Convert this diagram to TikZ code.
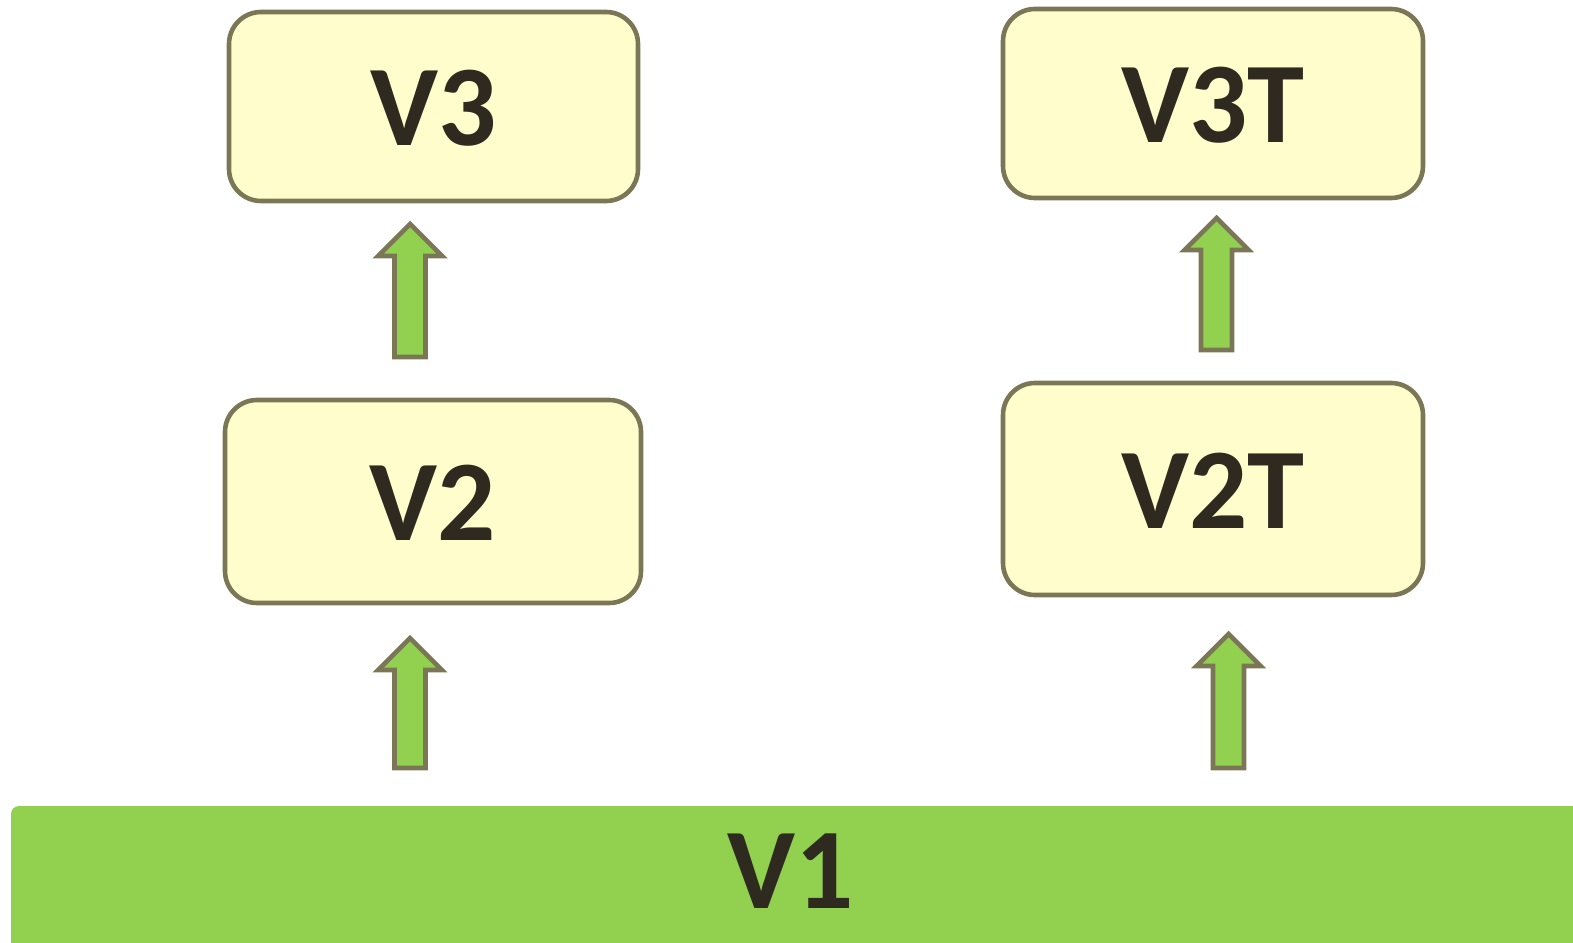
\documentclass[tikz,border=0pt]{standalone}
\usepackage{fontspec}
\setmainfont{Carlito}
\usetikzlibrary{calc}

\definecolor{boxfill}{HTML}{FEFDCB}
\definecolor{boxline}{HTML}{7B7756}
\definecolor{leafgreen}{HTML}{92D050}
\definecolor{inktext}{HTML}{2E2A1F}

\tikzset{
    bigtext/.style={text=inktext, font=\fontsize{57.5}{60}\selectfont\bfseries},
    verbox/.style={draw=boxline, line width=2.3pt, fill=boxfill, rounded corners=16pt,
        inner sep=0pt, bigtext, text depth=0pt},
    basebar/.style={fill=leafgreen, rounded corners=4pt},
    fatarrow/.style={draw=boxline, line width=2.3pt, fill=leafgreen, line join=miter}
}

% block arrow from a base point up to a tip point
\newcommand{\uparrowblock}[2]{%
    \draw[fatarrow] ($(#1)+(-15.5,0)$) -- ($(#2)+(-15.5,32)$) -- ($(#2)+(-32,32)$) -- (#2)
        -- ($(#2)+(32,32)$) -- ($(#2)+(15.5,32)$) -- ($(#1)+(15.5,0)$) -- cycle;}

\begin{document}
\begin{tikzpicture}[x=0.5pt, y=-0.5pt]
                    \useasboundingbox (0,0) rectangle (1573,942);

                    % base layer
                    \fill[basebar] (11,806) rectangle (1582,960);
                    \node [bigtext, yshift=-1.5pt] (V1) at (791,868) {V1};

                    % left column
                    \node [verbox, minimum width=204.5pt, minimum height=94.5pt] (V3) at (433.5,106.5) {\raisebox{-1.5pt}{V3}};
                    \node [verbox, minimum width=208pt, minimum height=101.5pt] (V2) at (433,501.5) {\raisebox{-1.5pt}{V2}};

                    % right column
                    \node [verbox, minimum width=210pt, minimum height=94.5pt] (V3T) at (1213,103.5) {\raisebox{-1.5pt}{V3T}};
                    \node [verbox, minimum width=210pt, minimum height=106pt] (V2T) at (1213,489) {\raisebox{-1.5pt}{V2T}};

                    \coordinate (A1s) at (410,357);
                    \coordinate (A1t) at (410,224);
                    \coordinate (A2s) at (410,768);
                    \coordinate (A2t) at (410,638);
                    \coordinate (A3s) at (1216.5,350);
                    \coordinate (A3t) at (1216.5,218);
                    \coordinate (A4s) at (1228.5,768);
                    \coordinate (A4t) at (1228.5,634);

                    \uparrowblock{A1s}{A1t}
                    \uparrowblock{A2s}{A2t}
                    \uparrowblock{A3s}{A3t}
                    \uparrowblock{A4s}{A4t}
                \end{tikzpicture}
\end{document}
